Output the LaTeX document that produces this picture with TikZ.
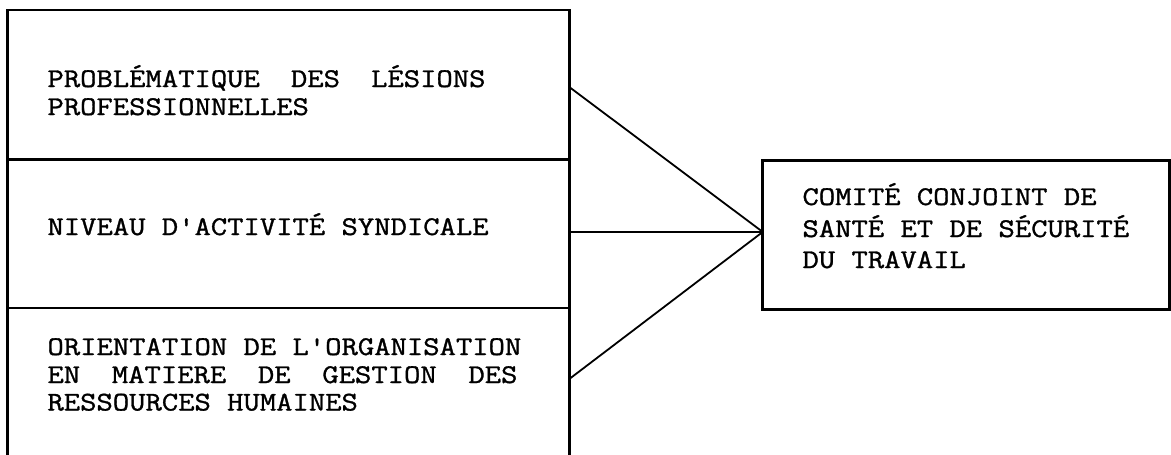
\documentclass[tikz,border=0pt]{standalone}
\usepackage{fontspec}
\newfontfamily\tw[FakeStretch=1.175,FakeBold=1.2]{Latin Modern Mono}
\begin{document}
\begin{tikzpicture}[x=1pt,y=-1pt,
  cell/.style={draw, line width=2.8pt, rectangle, anchor=north west, inner sep=0pt, outer sep=0pt, minimum width=561.6pt},
  rbox/.style={draw, line width=2.8pt, rectangle, anchor=north west, inner sep=0pt, outer sep=0pt, minimum width=406.8pt, minimum height=148.5pt},
  ln/.style={anchor=base west, inner sep=0pt, outer sep=0pt, font=\tw\fontsize{27}{28}\selectfont},
  conn/.style={draw, line width=1.8pt}]
\useasboundingbox (0,0) rectangle (1171,455);
\clip (0,0) rectangle (1171,455);
% left stacked box
\node[cell, minimum height=149.5pt] (c1) at (7.7,10) {};
\node[cell, minimum height=148.5pt] (c2) at (7.7,159.5) {};
\node[cell, minimum height=162pt] (c3) at (7.7,308) {};
% right box
\node[rbox] (cc) at (762.7,160.7) {};
% texts
\node[ln] (t1a) at (47.5,87) {\makebox[438pt][l]{PROBLÉMATIQUE\hfill DES\hfill LÉSIONS}};
\node[ln] (t1b) at (47.5,115) {PROFESSIONNELLES};
\node[ln] (t2a) at (47.5,235) {NIVEAU D'ACTIVITÉ SYNDICALE};
\node[ln] (t3a) at (47.5,355) {ORIENTATION DE L'ORGANISATION};
\node[ln] (t3b) at (47.5,383) {\makebox[470pt][l]{EN\hfill MATIERE\hfill DE\hfill GESTION\hfill DES}};
\node[ln] (t3c) at (47.5,410.5) {RESSOURCES HUMAINES};
\node[ln] (r1) at (802.5,205) {COMITÉ CONJOINT DE};
\node[ln] (r2) at (802.5,237) {SANTÉ ET DE SÉCURITÉ};
\node[ln] (r3) at (802.5,268) {DU TRAVAIL};
% connectors
\coordinate (tip) at ([yshift=3pt]cc.west);
\draw[conn] ([yshift=-2.25pt]c1.east) -- (tip);
\draw[conn] ([yshift=1.75pt]c2.east) -- (tip);
\draw[conn] ([yshift=10pt]c3.east) -- (tip);
\end{tikzpicture}
\end{document}
